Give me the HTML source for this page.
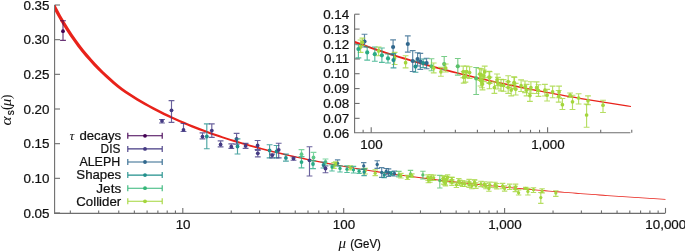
<!DOCTYPE html>
<html><head><meta charset="utf-8"><style>
html,body{margin:0;padding:0;background:#fff;width:685px;height:251px;overflow:hidden}
svg{display:block;font-family:"Liberation Sans",sans-serif;will-change:transform}
text{stroke:#111;stroke-width:0.22px}
text[font-family]{stroke:none}
</style></head><body>
<svg width="685" height="251" viewBox="0 0 685 251"><defs><clipPath id="cm"><rect x="55" y="5" width="612" height="208"/></clipPath><clipPath id="ci"><rect x="355" y="14" width="276" height="119"/></clipPath></defs><path d="M54.6 5V213.4H665" stroke="#6e6e6e" stroke-width="1.1" fill="none"/><path d="M54.6 5.00h5.4" stroke="#6e6e6e" stroke-width="1.1"/><text x="49.5" y="9.60" text-anchor="end" font-size="13.4" fill="#111111">0.35</text><path d="M54.6 39.67h5.4" stroke="#6e6e6e" stroke-width="1.1"/><text x="49.5" y="44.27" text-anchor="end" font-size="13.4" fill="#111111">0.30</text><path d="M54.6 74.33h5.4" stroke="#6e6e6e" stroke-width="1.1"/><text x="49.5" y="78.93" text-anchor="end" font-size="13.4" fill="#111111">0.25</text><path d="M54.6 109.00h5.4" stroke="#6e6e6e" stroke-width="1.1"/><text x="49.5" y="113.60" text-anchor="end" font-size="13.4" fill="#111111">0.20</text><path d="M54.6 143.67h5.4" stroke="#6e6e6e" stroke-width="1.1"/><text x="49.5" y="148.27" text-anchor="end" font-size="13.4" fill="#111111">0.15</text><path d="M54.6 178.33h5.4" stroke="#6e6e6e" stroke-width="1.1"/><text x="49.5" y="182.93" text-anchor="end" font-size="13.4" fill="#111111">0.10</text><path d="M54.6 213.00h5.4" stroke="#6e6e6e" stroke-width="1.1"/><text x="49.5" y="217.60" text-anchor="end" font-size="13.4" fill="#111111">0.05</text><path d="M70.34 213.4v-3" stroke="#6e6e6e" stroke-width="1.1"/><path d="M98.67 213.4v-3" stroke="#6e6e6e" stroke-width="1.1"/><path d="M118.77 213.4v-3" stroke="#6e6e6e" stroke-width="1.1"/><path d="M134.36 213.4v-3" stroke="#6e6e6e" stroke-width="1.1"/><path d="M147.10 213.4v-3" stroke="#6e6e6e" stroke-width="1.1"/><path d="M157.88 213.4v-3" stroke="#6e6e6e" stroke-width="1.1"/><path d="M167.21 213.4v-3" stroke="#6e6e6e" stroke-width="1.1"/><path d="M175.44 213.4v-3" stroke="#6e6e6e" stroke-width="1.1"/><path d="M182.80 213.4v-5.5" stroke="#6e6e6e" stroke-width="1.1"/><path d="M231.24 213.4v-3" stroke="#6e6e6e" stroke-width="1.1"/><path d="M259.57 213.4v-3" stroke="#6e6e6e" stroke-width="1.1"/><path d="M279.67 213.4v-3" stroke="#6e6e6e" stroke-width="1.1"/><path d="M295.26 213.4v-3" stroke="#6e6e6e" stroke-width="1.1"/><path d="M308.00 213.4v-3" stroke="#6e6e6e" stroke-width="1.1"/><path d="M318.78 213.4v-3" stroke="#6e6e6e" stroke-width="1.1"/><path d="M328.11 213.4v-3" stroke="#6e6e6e" stroke-width="1.1"/><path d="M336.34 213.4v-3" stroke="#6e6e6e" stroke-width="1.1"/><path d="M343.70 213.4v-5.5" stroke="#6e6e6e" stroke-width="1.1"/><path d="M392.14 213.4v-3" stroke="#6e6e6e" stroke-width="1.1"/><path d="M420.47 213.4v-3" stroke="#6e6e6e" stroke-width="1.1"/><path d="M440.57 213.4v-3" stroke="#6e6e6e" stroke-width="1.1"/><path d="M456.16 213.4v-3" stroke="#6e6e6e" stroke-width="1.1"/><path d="M468.90 213.4v-3" stroke="#6e6e6e" stroke-width="1.1"/><path d="M479.68 213.4v-3" stroke="#6e6e6e" stroke-width="1.1"/><path d="M489.01 213.4v-3" stroke="#6e6e6e" stroke-width="1.1"/><path d="M497.24 213.4v-3" stroke="#6e6e6e" stroke-width="1.1"/><path d="M504.60 213.4v-5.5" stroke="#6e6e6e" stroke-width="1.1"/><path d="M553.04 213.4v-3" stroke="#6e6e6e" stroke-width="1.1"/><path d="M581.37 213.4v-3" stroke="#6e6e6e" stroke-width="1.1"/><path d="M601.47 213.4v-3" stroke="#6e6e6e" stroke-width="1.1"/><path d="M617.06 213.4v-3" stroke="#6e6e6e" stroke-width="1.1"/><path d="M629.80 213.4v-3" stroke="#6e6e6e" stroke-width="1.1"/><path d="M640.58 213.4v-3" stroke="#6e6e6e" stroke-width="1.1"/><path d="M649.91 213.4v-3" stroke="#6e6e6e" stroke-width="1.1"/><path d="M658.14 213.4v-3" stroke="#6e6e6e" stroke-width="1.1"/><path d="M665.50 213.4v-5.5" stroke="#6e6e6e" stroke-width="1.1"/><text x="183.10" y="228.7" text-anchor="middle" font-size="13.4" fill="#111111">10</text><text x="344.00" y="228.7" text-anchor="middle" font-size="13.4" fill="#111111">100</text><text x="504.90" y="228.7" text-anchor="middle" font-size="13.4" fill="#111111">1,000</text><text x="665.80" y="228.7" text-anchor="middle" font-size="13.4" fill="#111111">10,000</text><text x="338.6" y="247.6" font-family="Liberation Serif" font-style="italic" font-size="15" fill="#111111">μ</text><text x="350.3" y="247.6" font-size="12.6" textLength="30.6" lengthAdjust="spacingAndGlyphs" fill="#111111">(GeV)</text><g transform="translate(10.5 124.8) rotate(-90)" fill="#111111"><text x="-0.6" y="0" font-family="Liberation Serif" font-style="italic" font-size="15" textLength="9" lengthAdjust="spacingAndGlyphs">α</text><text x="9.6" y="3.8" font-size="10">s</text><text x="14.8" y="0" font-family="Liberation Serif" font-size="14">(</text><text x="18.6" y="0" font-family="Liberation Serif" font-style="italic" font-size="15">μ</text><text x="25.6" y="0" font-family="Liberation Serif" font-size="14">)</text></g><path d="M46.33 -6.20 L50.22 2.09 L54.13 9.82 L58.05 17.02 L61.97 23.76 L65.90 30.08 L69.82 36.02 L73.74 41.62 L77.66 46.90 L81.59 51.90 L85.51 56.63 L89.44 61.12 L93.36 65.38 L97.29 69.44 L101.21 73.31 L105.13 77.00 L109.06 80.53 L112.98 83.90 L116.90 87.13 L120.84 90.25 L124.79 92.95 L128.70 95.52 L132.61 98.00 L136.53 100.39 L140.44 102.71 L144.35 104.95 L148.25 107.12 L152.16 109.22 L156.06 111.26 L159.97 113.24 L163.87 115.16 L167.77 117.02 L171.67 118.83 L175.57 120.58 L179.47 122.29 L183.38 123.95 L187.28 125.56 L191.17 127.13 L195.07 128.66 L198.97 130.14 L202.87 131.59 L206.77 133.00 L210.66 134.38 L214.56 135.72 L218.46 137.03 L222.35 138.31 L226.25 139.55 L230.14 140.77 L234.04 141.96 L237.94 143.11 L241.83 144.24 L245.73 145.35 L249.62 146.43 L253.51 147.49 L257.41 148.52 L261.30 149.53 L265.19 150.52 L269.09 151.49 L272.98 152.43 L276.87 153.36 L280.76 154.27 L284.65 155.17 L288.54 156.05 L292.43 156.91 L296.32 157.76 L300.21 158.58 L304.10 159.40 L307.99 160.19 L311.88 160.98 L315.77 161.74 L319.66 162.50 L323.55 163.24 L327.44 163.96 L331.33 164.68 L335.21 165.38 L339.10 166.06 L342.99 166.74 L346.88 167.41 L350.76 168.07 L354.65 168.73 L358.54 169.37 L362.42 170.00 L366.31 170.62 L370.20 171.22 L374.08 171.82 L377.97 172.41 L381.85 173.00 L385.74 173.57 L389.63 174.13 L393.51 174.68 L397.40 175.23 L401.28 175.77 L405.17 176.30 L409.06 176.82 L412.94 177.33 L416.83 177.84 L420.71 178.33 L424.60 178.83 L428.48 179.31 L432.37 179.79 L436.26 180.26 L440.14 180.72 L444.03 181.18 L447.91 181.63 L451.80 182.08 L455.68 182.51 L459.57 182.95 L463.45 183.37 L467.34 183.80 L471.22 184.21 L475.11 184.62 L479.00 185.03 L482.88 185.43 L486.77 185.82 L490.65 186.21 L494.54 186.59 L498.42 186.97 L502.31 187.35 L506.19 187.72 L510.08 188.08 L513.96 188.44 L517.85 188.80 L521.73 189.15 L525.62 189.50 L529.50 189.84 L533.39 190.18 L537.27 190.52 L541.16 190.85 L545.04 191.18 L548.93 191.50 L552.81 191.82 L556.70 192.14 L560.58 192.45 L564.47 192.76 L568.35 193.07 L572.24 193.37 L576.12 193.67 L580.01 193.97 L583.89 194.26 L587.78 194.55 L591.66 194.83 L595.55 195.12 L599.43 195.40 L603.32 195.67 L607.20 195.95 L611.09 196.22 L614.97 196.49 L618.86 196.75 L622.74 197.01 L626.63 197.27 L630.51 197.53 L634.40 197.78 L638.28 198.03 L642.17 198.28 L646.05 198.53 L649.94 198.77 L653.82 199.02 L657.71 199.25 L661.59 199.49 L665.48 199.73 L665.52 198.98 L661.64 198.74 L657.75 198.50 L653.87 198.26 L649.99 198.01 L646.10 197.76 L642.22 197.51 L638.33 197.26 L634.45 197.01 L630.57 196.75 L626.68 196.49 L622.80 196.22 L618.91 195.96 L615.03 195.69 L611.14 195.42 L607.26 195.14 L603.38 194.87 L599.49 194.59 L595.61 194.30 L591.72 194.02 L587.84 193.73 L583.96 193.43 L580.07 193.14 L576.19 192.84 L572.30 192.54 L568.42 192.23 L564.54 191.92 L560.65 191.61 L556.77 191.29 L552.88 190.97 L549.00 190.65 L545.12 190.32 L541.23 189.99 L537.35 189.65 L533.46 189.31 L529.58 188.97 L525.70 188.62 L521.81 188.27 L517.93 187.92 L514.05 187.56 L510.16 187.19 L506.28 186.82 L502.39 186.45 L498.51 186.07 L494.63 185.68 L490.74 185.30 L486.86 184.90 L482.98 184.50 L479.09 184.10 L475.21 183.69 L471.32 183.27 L467.44 182.85 L463.56 182.43 L459.67 182.00 L455.79 181.56 L451.91 181.12 L448.02 180.67 L444.14 180.21 L440.26 179.75 L436.37 179.28 L432.49 178.81 L428.61 178.32 L424.72 177.83 L420.84 177.34 L416.96 176.84 L413.07 176.33 L409.19 175.81 L405.31 175.28 L401.42 174.75 L397.54 174.21 L393.66 173.66 L389.77 173.10 L385.89 172.53 L382.01 171.95 L378.13 171.37 L374.24 170.77 L370.36 170.17 L366.48 169.56 L362.59 168.93 L358.71 168.30 L354.83 167.65 L350.95 167.00 L347.06 166.33 L343.18 165.65 L339.30 164.95 L335.42 164.24 L331.54 163.52 L327.66 162.78 L323.78 162.03 L319.90 161.27 L316.02 160.50 L312.14 159.71 L308.26 158.90 L304.38 158.08 L300.50 157.25 L296.62 156.40 L292.74 155.53 L288.86 154.64 L284.98 153.74 L281.11 152.82 L277.23 151.88 L273.35 150.92 L269.47 149.94 L265.60 148.94 L261.72 147.92 L257.85 146.87 L253.97 145.81 L250.10 144.72 L246.22 143.61 L242.35 142.47 L238.47 141.31 L234.60 140.12 L230.73 138.91 L226.85 137.67 L222.98 136.40 L219.11 135.10 L215.23 133.77 L211.36 132.40 L207.49 131.01 L203.62 129.58 L199.75 128.11 L195.88 126.60 L192.01 125.06 L188.14 123.47 L184.27 121.84 L180.40 120.17 L176.53 118.45 L172.66 116.68 L168.80 114.86 L164.93 112.99 L161.06 111.06 L157.20 109.07 L153.33 107.03 L149.47 104.91 L145.61 102.73 L141.75 100.48 L137.89 98.15 L134.03 95.74 L130.17 93.25 L126.32 90.68 L122.50 88.02 L118.67 84.95 L114.82 81.73 L110.98 78.36 L107.13 74.85 L103.28 71.17 L99.44 67.33 L95.60 63.29 L91.75 59.05 L87.91 54.60 L84.06 49.91 L80.22 44.96 L76.37 39.73 L72.52 34.19 L68.68 28.31 L64.83 22.05 L60.98 15.38 L57.13 8.25 L53.28 0.60 L49.40 -7.65Z" fill="#e8221a" clip-path="url(#cm)"/><path d="M127.8 135.8H162.2M127.8 132.8v6M162.2 132.8v6" stroke="#440154" stroke-width="1.1" fill="none"/><circle cx="145" cy="135.8" r="1.9" fill="#440154"/><text x="79.4" y="140.1" textLength="41.8" lengthAdjust="spacingAndGlyphs" font-size="12.4" fill="#111111">decays</text><text x="69.6" y="140.1" font-family="Liberation Serif" font-style="italic" font-size="13.5" fill="#111111">τ</text><path d="M127.8 148.9H162.2M127.8 145.9v6M162.2 145.9v6" stroke="#443a83" stroke-width="1.1" fill="none"/><circle cx="145" cy="148.9" r="1.9" fill="#443a83"/><text x="100.6" y="153.2" textLength="19.8" lengthAdjust="spacingAndGlyphs" font-size="12.4" fill="#111111">DIS</text><path d="M127.8 162.0H162.2M127.8 159.0v6M162.2 159.0v6" stroke="#31688e" stroke-width="1.1" fill="none"/><circle cx="145" cy="162.0" r="1.9" fill="#31688e"/><text x="79.4" y="166.3" textLength="40.8" lengthAdjust="spacingAndGlyphs" font-size="12.4" fill="#111111">ALEPH</text><path d="M127.8 175.1H162.2M127.8 172.1v6M162.2 172.1v6" stroke="#21908c" stroke-width="1.1" fill="none"/><circle cx="145" cy="175.1" r="1.9" fill="#21908c"/><text x="76.3" y="179.4" textLength="44.9" lengthAdjust="spacingAndGlyphs" font-size="12.4" fill="#111111">Shapes</text><path d="M127.8 188.2H162.2M127.8 185.2v6M162.2 185.2v6" stroke="#35b779" stroke-width="1.1" fill="none"/><circle cx="145" cy="188.2" r="1.9" fill="#35b779"/><text x="96.3" y="192.5" textLength="24.9" lengthAdjust="spacingAndGlyphs" font-size="12.4" fill="#111111">Jets</text><path d="M127.8 201.3H162.2M127.8 198.3v6M162.2 198.3v6" stroke="#a4d63c" stroke-width="1.1" fill="none"/><circle cx="145" cy="201.3" r="1.9" fill="#a4d63c"/><text x="76.3" y="205.6" textLength="44.9" lengthAdjust="spacingAndGlyphs" font-size="12.4" fill="#111111">Collider</text><path d="M63.0 20.7V40.3M60.1 20.7h5.8M60.1 40.3h5.8" stroke="#440154" stroke-width="1.15" stroke-opacity="0.8" fill="none"/><circle cx="63.0" cy="31.2" r="1.9" fill="#440154"/><path d="M162.0 119.5V123.0M159.1 119.5h5.8M159.1 123.0h5.8" stroke="#443a83" stroke-width="1.15" stroke-opacity="0.8" fill="none"/><circle cx="162.0" cy="120.9" r="1.9" fill="#443a83"/><path d="M171.5 100.6V122.3M168.6 100.6h5.8M168.6 122.3h5.8" stroke="#443a83" stroke-width="1.15" stroke-opacity="0.8" fill="none"/><circle cx="171.5" cy="110.3" r="1.9" fill="#443a83"/><path d="M183.5 123.5V131.5M180.6 123.5h5.8M180.6 131.5h5.8" stroke="#443a83" stroke-width="1.15" stroke-opacity="0.8" fill="none"/><circle cx="183.5" cy="129.9" r="1.9" fill="#443a83"/><path d="M202.5 132.9V138.9M199.6 132.9h5.8M199.6 138.9h5.8" stroke="#443a83" stroke-width="1.15" stroke-opacity="0.8" fill="none"/><circle cx="202.5" cy="136.6" r="1.9" fill="#443a83"/><path d="M206.8 123.8V148.7M203.9 123.8h5.8M203.9 148.7h5.8" stroke="#21908c" stroke-width="1.15" stroke-opacity="0.8" fill="none"/><circle cx="206.8" cy="136.5" r="1.9" fill="#21908c"/><path d="M211.8 123.8V137.3M208.9 123.8h5.8M208.9 137.3h5.8" stroke="#443a83" stroke-width="1.15" stroke-opacity="0.8" fill="none"/><circle cx="211.8" cy="130.6" r="1.9" fill="#443a83"/><path d="M220.6 140.9V146.9M217.7 140.9h5.8M217.7 146.9h5.8" stroke="#443a83" stroke-width="1.15" stroke-opacity="0.8" fill="none"/><circle cx="220.6" cy="144.4" r="1.9" fill="#443a83"/><path d="M231.3 143.9V148.4M228.4 143.9h5.8M228.4 148.4h5.8" stroke="#443a83" stroke-width="1.15" stroke-opacity="0.8" fill="none"/><circle cx="231.3" cy="146.7" r="1.9" fill="#443a83"/><path d="M236.6 133.4V144.1M233.7 133.4h5.8M233.7 144.1h5.8" stroke="#443a83" stroke-width="1.15" stroke-opacity="0.8" fill="none"/><circle cx="236.6" cy="138.9" r="1.9" fill="#443a83"/><path d="M237.5 138.8V154.0M234.6 138.8h5.8M234.6 154.0h5.8" stroke="#21908c" stroke-width="1.15" stroke-opacity="0.8" fill="none"/><circle cx="237.5" cy="146.5" r="1.9" fill="#21908c"/><path d="M245.6 143.3V148.3M242.7 143.3h5.8M242.7 148.3h5.8" stroke="#443a83" stroke-width="1.15" stroke-opacity="0.8" fill="none"/><circle cx="245.6" cy="145.9" r="1.9" fill="#443a83"/><path d="M257.6 140.5V149.5M254.7 140.5h5.8M254.7 149.5h5.8" stroke="#443a83" stroke-width="1.15" stroke-opacity="0.8" fill="none"/><circle cx="257.6" cy="145.4" r="1.9" fill="#443a83"/><path d="M257.8 150.3V156.9M254.9 150.3h5.8M254.9 156.9h5.8" stroke="#443a83" stroke-width="1.15" stroke-opacity="0.8" fill="none"/><circle cx="257.8" cy="153.3" r="1.9" fill="#443a83"/><path d="M269.6 144.7V157.9M266.7 144.7h5.8M266.7 157.9h5.8" stroke="#21908c" stroke-width="1.15" stroke-opacity="0.8" fill="none"/><circle cx="269.6" cy="150.5" r="1.9" fill="#21908c"/><path d="M272.2 154.1V157.9M269.3 154.1h5.8M269.3 157.9h5.8" stroke="#443a83" stroke-width="1.15" stroke-opacity="0.8" fill="none"/><circle cx="272.2" cy="155.2" r="1.9" fill="#443a83"/><path d="M276.5 145.5V157.9M273.6 145.5h5.8M273.6 157.9h5.8" stroke="#21908c" stroke-width="1.15" stroke-opacity="0.8" fill="none"/><circle cx="276.5" cy="151.4" r="1.9" fill="#21908c"/><path d="M278.7 143.2V157.9M275.8 143.2h5.8M275.8 157.9h5.8" stroke="#443a83" stroke-width="1.15" stroke-opacity="0.8" fill="none"/><circle cx="278.7" cy="149.8" r="1.9" fill="#443a83"/><path d="M285.9 154.1V161.1M283.0 154.1h5.8M283.0 161.1h5.8" stroke="#21908c" stroke-width="1.15" stroke-opacity="0.8" fill="none"/><circle cx="285.9" cy="157.9" r="1.9" fill="#21908c"/><path d="M293.5 157.0V160.2M290.6 157.0h5.8M290.6 160.2h5.8" stroke="#443a83" stroke-width="1.15" stroke-opacity="0.8" fill="none"/><circle cx="293.5" cy="158.6" r="1.9" fill="#443a83"/><path d="M301.5 149.6V156.7M298.6 149.6h5.8M298.6 156.7h5.8" stroke="#5ec98a" stroke-width="1.15" stroke-opacity="0.8" fill="none"/><circle cx="301.5" cy="154.2" r="1.9" fill="#5ec98a"/><path d="M301.5 156.7V167.9M298.6 156.7h5.8M298.6 167.9h5.8" stroke="#2aab85" stroke-width="1.15" stroke-opacity="0.8" fill="none"/><circle cx="301.5" cy="162.1" r="1.9" fill="#2aab85"/><path d="M309.5 146.7V176.0M306.6 146.7h5.8M306.6 176.0h5.8" stroke="#443a83" stroke-width="1.15" stroke-opacity="0.8" fill="none"/><circle cx="309.5" cy="160.3" r="1.9" fill="#443a83"/><path d="M313.5 152.3V160.7M310.6 152.3h5.8M310.6 160.7h5.8" stroke="#5ec98a" stroke-width="1.15" stroke-opacity="0.8" fill="none"/><circle cx="313.5" cy="157.5" r="1.9" fill="#5ec98a"/><path d="M313.0 160.7V168.6M310.1 160.7h5.8M310.1 168.6h5.8" stroke="#2aab85" stroke-width="1.15" stroke-opacity="0.8" fill="none"/><circle cx="313.0" cy="164.0" r="1.9" fill="#2aab85"/><path d="M325.5 159.0V165.0M322.6 159.0h5.8M322.6 165.0h5.8" stroke="#5ec98a" stroke-width="1.15" stroke-opacity="0.8" fill="none"/><circle cx="325.5" cy="162.0" r="1.9" fill="#5ec98a"/><path d="M323.5 162.0V168.0M320.6 162.0h5.8M320.6 168.0h5.8" stroke="#21908c" stroke-width="1.15" stroke-opacity="0.8" fill="none"/><circle cx="323.5" cy="165.0" r="1.9" fill="#21908c"/><path d="M325.5 166.0V172.7M322.6 166.0h5.8M322.6 172.7h5.8" stroke="#443a83" stroke-width="1.15" stroke-opacity="0.8" fill="none"/><circle cx="325.5" cy="168.5" r="1.9" fill="#443a83"/><path d="M337.6 159.9V165.9M334.9 159.9h5.4M334.9 165.9h5.4" stroke="#31688e" stroke-width="1.15" stroke-opacity="0.8" fill="none"/><circle cx="337.6" cy="163.3" r="1.65" fill="#31688e"/><path d="M334.0 162.6V168.4M331.3 162.6h5.4M331.3 168.4h5.4" stroke="#a4d63c" stroke-width="1.15" stroke-opacity="0.8" fill="none"/><circle cx="334.0" cy="165.9" r="1.65" fill="#a4d63c"/><path d="M335.6 161.7V165.2M332.9 161.7h5.4M332.9 165.2h5.4" stroke="#a4d63c" stroke-width="1.15" stroke-opacity="0.8" fill="none"/><circle cx="335.6" cy="163.7" r="1.65" fill="#a4d63c"/><path d="M332.0 164.8V171.0M329.3 164.8h5.4M329.3 171.0h5.4" stroke="#2aab85" stroke-width="1.15" stroke-opacity="0.8" fill="none"/><circle cx="332.0" cy="166.9" r="1.65" fill="#2aab85"/><path d="M340.0 165.9V172.0M337.3 165.9h5.4M337.3 172.0h5.4" stroke="#2aab85" stroke-width="1.15" stroke-opacity="0.8" fill="none"/><circle cx="340.0" cy="168.4" r="1.65" fill="#2aab85"/><path d="M347.0 165.9V172.5M344.3 165.9h5.4M344.3 172.5h5.4" stroke="#2aab85" stroke-width="1.15" stroke-opacity="0.8" fill="none"/><circle cx="347.0" cy="169.2" r="1.65" fill="#2aab85"/><path d="M350.5 165.9V169.9M347.8 165.9h5.4M347.8 169.9h5.4" stroke="#a4d63c" stroke-width="1.15" stroke-opacity="0.8" fill="none"/><circle cx="350.5" cy="167.7" r="1.65" fill="#a4d63c"/><path d="M353.5 166.4V173.0M350.8 166.4h5.4M350.8 173.0h5.4" stroke="#2aab85" stroke-width="1.15" stroke-opacity="0.8" fill="none"/><circle cx="353.5" cy="169.8" r="1.65" fill="#2aab85"/><path d="M363.7 162.6V169.4M361.0 162.6h5.4M361.0 169.4h5.4" stroke="#31688e" stroke-width="1.15" stroke-opacity="0.8" fill="none"/><circle cx="363.7" cy="165.9" r="1.65" fill="#31688e"/><path d="M359.1 169.2V173.3M356.4 169.2h5.4M356.4 173.3h5.4" stroke="#2aab85" stroke-width="1.15" stroke-opacity="0.8" fill="none"/><circle cx="359.1" cy="171.2" r="1.65" fill="#2aab85"/><path d="M365.1 168.4V174.0M362.4 168.4h5.4M362.4 174.0h5.4" stroke="#a4d63c" stroke-width="1.15" stroke-opacity="0.8" fill="none"/><circle cx="365.1" cy="171.0" r="1.65" fill="#a4d63c"/><path d="M364.1 168.9V175.6M361.4 168.9h5.4M361.4 175.6h5.4" stroke="#21908c" stroke-width="1.15" stroke-opacity="0.8" fill="none"/><circle cx="364.1" cy="172.0" r="1.65" fill="#21908c"/><path d="M377.2 160.7V168.3M374.5 160.7h5.4M374.5 168.3h5.4" stroke="#31688e" stroke-width="1.15" stroke-opacity="0.8" fill="none"/><circle cx="377.2" cy="164.5" r="1.65" fill="#31688e"/><path d="M375.2 169.9V175.6M372.5 169.9h5.4M372.5 175.6h5.4" stroke="#a4d63c" stroke-width="1.15" stroke-opacity="0.8" fill="none"/><circle cx="375.2" cy="173.2" r="1.65" fill="#a4d63c"/><path d="M381.7 167.6V177.3M379.0 167.6h5.4M379.0 177.3h5.4" stroke="#31688e" stroke-width="1.15" stroke-opacity="0.8" fill="none"/><circle cx="381.7" cy="172.4" r="1.65" fill="#31688e"/><path d="M386.2 168.5V174.7M383.5 168.5h5.4M383.5 174.7h5.4" stroke="#31688e" stroke-width="1.15" stroke-opacity="0.8" fill="none"/><circle cx="386.2" cy="171.5" r="1.65" fill="#31688e"/><path d="M388.6 168.9V176.3M385.9 168.9h5.4M385.9 176.3h5.4" stroke="#31688e" stroke-width="1.15" stroke-opacity="0.8" fill="none"/><circle cx="388.6" cy="172.6" r="1.65" fill="#31688e"/><path d="M394.4 171.1V176.0M391.7 171.1h5.4M391.7 176.0h5.4" stroke="#31688e" stroke-width="1.15" stroke-opacity="0.8" fill="none"/><circle cx="394.4" cy="173.4" r="1.65" fill="#31688e"/><path d="M384.2 172.4V177.6M381.5 172.4h5.4M381.5 177.6h5.4" stroke="#21908c" stroke-width="1.15" stroke-opacity="0.8" fill="none"/><circle cx="384.2" cy="175.0" r="1.65" fill="#21908c"/><path d="M391.2 171.5V175.4M388.5 171.5h5.4M388.5 175.4h5.4" stroke="#21908c" stroke-width="1.15" stroke-opacity="0.8" fill="none"/><circle cx="391.2" cy="173.4" r="1.65" fill="#21908c"/><path d="M398.9 171.3V176.9M396.2 171.3h5.4M396.2 176.9h5.4" stroke="#58c06a" stroke-width="1.15" stroke-opacity="0.8" fill="none"/><circle cx="398.9" cy="174.9" r="1.65" fill="#58c06a"/><path d="M400.9 173.3V178.0M398.2 173.3h5.4M398.2 178.0h5.4" stroke="#a4d63c" stroke-width="1.15" stroke-opacity="0.8" fill="none"/><circle cx="400.9" cy="175.7" r="1.65" fill="#a4d63c"/><path d="M410.5 170.3V176.4M407.8 170.3h5.4M407.8 176.4h5.4" stroke="#58c06a" stroke-width="1.15" stroke-opacity="0.8" fill="none"/><circle cx="410.5" cy="173.9" r="1.65" fill="#58c06a"/><path d="M407.5 175.4V179.5M404.8 175.4h5.4M404.8 179.5h5.4" stroke="#a4d63c" stroke-width="1.15" stroke-opacity="0.8" fill="none"/><circle cx="407.5" cy="177.4" r="1.65" fill="#a4d63c"/><path d="M411.9 173.8V177.5M409.2 173.8h5.4M409.2 177.5h5.4" stroke="#a4d63c" stroke-width="1.15" stroke-opacity="0.8" fill="none"/><circle cx="411.9" cy="175.7" r="1.65" fill="#a4d63c"/><path d="M422.9 171.2V179.0M420.2 171.2h5.4M420.2 179.0h5.4" stroke="#58c06a" stroke-width="1.15" stroke-opacity="0.8" fill="none"/><circle cx="422.9" cy="174.9" r="1.65" fill="#58c06a"/><path d="M439.8 175.4V188.0M437.1 175.4h5.4M437.1 188.0h5.4" stroke="#58c06a" stroke-width="1.15" stroke-opacity="0.8" fill="none"/><circle cx="439.8" cy="180.5" r="1.65" fill="#58c06a"/><path d="M427.9 174.8V180.2M425.2 174.8h5.4M425.2 180.2h5.4" stroke="#a4d63c" stroke-width="1.15" stroke-opacity="0.8" fill="none"/><circle cx="427.9" cy="177.5" r="1.65" fill="#a4d63c"/><path d="M428.3 177.3V182.7M425.6 177.3h5.4M425.6 182.7h5.4" stroke="#a4d63c" stroke-width="1.15" stroke-opacity="0.8" fill="none"/><circle cx="428.3" cy="180.0" r="1.65" fill="#a4d63c"/><path d="M429.9 176.8V182.2M427.2 176.8h5.4M427.2 182.2h5.4" stroke="#a4d63c" stroke-width="1.15" stroke-opacity="0.8" fill="none"/><circle cx="429.9" cy="179.5" r="1.65" fill="#a4d63c"/><path d="M431.0 174.7V180.2M428.3 174.7h5.4M428.3 180.2h5.4" stroke="#a4d63c" stroke-width="1.15" stroke-opacity="0.8" fill="none"/><circle cx="431.0" cy="177.4" r="1.65" fill="#a4d63c"/><path d="M433.7 175.1V180.5M431.0 175.1h5.4M431.0 180.5h5.4" stroke="#a4d63c" stroke-width="1.15" stroke-opacity="0.8" fill="none"/><circle cx="433.7" cy="177.8" r="1.65" fill="#a4d63c"/><path d="M443.0 175.8V181.2M440.3 175.8h5.4M440.3 181.2h5.4" stroke="#a4d63c" stroke-width="1.15" stroke-opacity="0.8" fill="none"/><circle cx="443.0" cy="178.5" r="1.65" fill="#a4d63c"/><path d="M443.7 178.7V184.1M441.0 178.7h5.4M441.0 184.1h5.4" stroke="#a4d63c" stroke-width="1.15" stroke-opacity="0.8" fill="none"/><circle cx="443.7" cy="181.4" r="1.65" fill="#a4d63c"/><path d="M446.7 176.6V182.0M444.0 176.6h5.4M444.0 182.0h5.4" stroke="#a4d63c" stroke-width="1.15" stroke-opacity="0.8" fill="none"/><circle cx="446.7" cy="179.3" r="1.65" fill="#a4d63c"/><path d="M447.6 174.8V180.2M444.9 174.8h5.4M444.9 180.2h5.4" stroke="#a4d63c" stroke-width="1.15" stroke-opacity="0.8" fill="none"/><circle cx="447.6" cy="177.5" r="1.65" fill="#a4d63c"/><path d="M444.3 176.1V181.5M441.6 176.1h5.4M441.6 181.5h5.4" stroke="#a4d63c" stroke-width="1.15" stroke-opacity="0.8" fill="none"/><circle cx="444.3" cy="178.8" r="1.65" fill="#a4d63c"/><path d="M445.0 179.5V184.9M442.3 179.5h5.4M442.3 184.9h5.4" stroke="#a4d63c" stroke-width="1.15" stroke-opacity="0.8" fill="none"/><circle cx="445.0" cy="182.2" r="1.65" fill="#a4d63c"/><path d="M462.5 180.9V186.3M459.8 180.9h5.4M459.8 186.3h5.4" stroke="#a4d63c" stroke-width="1.15" stroke-opacity="0.8" fill="none"/><circle cx="462.5" cy="183.6" r="1.65" fill="#a4d63c"/><path d="M451.6 177.2V182.6M448.9 177.2h5.4M448.9 182.6h5.4" stroke="#a4d63c" stroke-width="1.15" stroke-opacity="0.8" fill="none"/><circle cx="451.6" cy="179.9" r="1.65" fill="#a4d63c"/><path d="M445.5 180.4V185.8M442.8 180.4h5.4M442.8 185.8h5.4" stroke="#a4d63c" stroke-width="1.15" stroke-opacity="0.8" fill="none"/><circle cx="445.5" cy="183.1" r="1.65" fill="#a4d63c"/><path d="M452.1 177.4V182.8M449.4 177.4h5.4M449.4 182.8h5.4" stroke="#a4d63c" stroke-width="1.15" stroke-opacity="0.8" fill="none"/><circle cx="452.1" cy="180.1" r="1.65" fill="#a4d63c"/><path d="M451.9 179.9V185.3M449.2 179.9h5.4M449.2 185.3h5.4" stroke="#a4d63c" stroke-width="1.15" stroke-opacity="0.8" fill="none"/><circle cx="451.9" cy="182.6" r="1.65" fill="#a4d63c"/><path d="M456.4 182.1V187.5M453.7 182.1h5.4M453.7 187.5h5.4" stroke="#a4d63c" stroke-width="1.15" stroke-opacity="0.8" fill="none"/><circle cx="456.4" cy="184.8" r="1.65" fill="#a4d63c"/><path d="M458.8 178.5V183.9M456.1 178.5h5.4M456.1 183.9h5.4" stroke="#a4d63c" stroke-width="1.15" stroke-opacity="0.8" fill="none"/><circle cx="458.8" cy="181.2" r="1.65" fill="#a4d63c"/><path d="M459.7 180.1V185.5M457.0 180.1h5.4M457.0 185.5h5.4" stroke="#a4d63c" stroke-width="1.15" stroke-opacity="0.8" fill="none"/><circle cx="459.7" cy="182.8" r="1.65" fill="#a4d63c"/><path d="M464.8 181.1V186.5M462.1 181.1h5.4M462.1 186.5h5.4" stroke="#a4d63c" stroke-width="1.15" stroke-opacity="0.8" fill="none"/><circle cx="464.8" cy="183.8" r="1.65" fill="#a4d63c"/><path d="M469.1 179.3V184.7M466.4 179.3h5.4M466.4 184.7h5.4" stroke="#a4d63c" stroke-width="1.15" stroke-opacity="0.8" fill="none"/><circle cx="469.1" cy="182.0" r="1.65" fill="#a4d63c"/><path d="M469.1 182.1V187.5M466.4 182.1h5.4M466.4 187.5h5.4" stroke="#a4d63c" stroke-width="1.15" stroke-opacity="0.8" fill="none"/><circle cx="469.1" cy="184.8" r="1.65" fill="#a4d63c"/><path d="M471.8 183.3V188.7M469.1 183.3h5.4M469.1 188.7h5.4" stroke="#a4d63c" stroke-width="1.15" stroke-opacity="0.8" fill="none"/><circle cx="471.8" cy="186.0" r="1.65" fill="#a4d63c"/><path d="M474.4 179.8V185.2M471.7 179.8h5.4M471.7 185.2h5.4" stroke="#a4d63c" stroke-width="1.15" stroke-opacity="0.8" fill="none"/><circle cx="474.4" cy="182.5" r="1.65" fill="#a4d63c"/><path d="M475.9 182.9V188.3M473.2 182.9h5.4M473.2 188.3h5.4" stroke="#a4d63c" stroke-width="1.15" stroke-opacity="0.8" fill="none"/><circle cx="475.9" cy="185.6" r="1.65" fill="#a4d63c"/><path d="M480.9 181.2V186.6M478.2 181.2h5.4M478.2 186.6h5.4" stroke="#a4d63c" stroke-width="1.15" stroke-opacity="0.8" fill="none"/><circle cx="480.9" cy="183.9" r="1.65" fill="#a4d63c"/><path d="M484.4 181.7V187.1M481.7 181.7h5.4M481.7 187.1h5.4" stroke="#a4d63c" stroke-width="1.15" stroke-opacity="0.8" fill="none"/><circle cx="484.4" cy="184.4" r="1.65" fill="#a4d63c"/><path d="M485.9 183.3V188.7M483.2 183.3h5.4M483.2 188.7h5.4" stroke="#a4d63c" stroke-width="1.15" stroke-opacity="0.8" fill="none"/><circle cx="485.9" cy="186.0" r="1.65" fill="#a4d63c"/><path d="M488.9 185.8V191.2M486.2 185.8h5.4M486.2 191.2h5.4" stroke="#a4d63c" stroke-width="1.15" stroke-opacity="0.8" fill="none"/><circle cx="488.9" cy="188.5" r="1.65" fill="#a4d63c"/><path d="M489.8 182.1V187.5M487.1 182.1h5.4M487.1 187.5h5.4" stroke="#a4d63c" stroke-width="1.15" stroke-opacity="0.8" fill="none"/><circle cx="489.8" cy="184.8" r="1.65" fill="#a4d63c"/><path d="M474.8 180.0V185.4M472.1 180.0h5.4M472.1 185.4h5.4" stroke="#a4d63c" stroke-width="1.15" stroke-opacity="0.8" fill="none"/><circle cx="474.8" cy="182.7" r="1.65" fill="#a4d63c"/><path d="M495.0 182.2V187.6M492.3 182.2h5.4M492.3 187.6h5.4" stroke="#a4d63c" stroke-width="1.15" stroke-opacity="0.8" fill="none"/><circle cx="495.0" cy="184.9" r="1.65" fill="#a4d63c"/><path d="M496.8 183.5V188.9M494.1 183.5h5.4M494.1 188.9h5.4" stroke="#a4d63c" stroke-width="1.15" stroke-opacity="0.8" fill="none"/><circle cx="496.8" cy="186.2" r="1.65" fill="#a4d63c"/><path d="M502.6 183.3V188.7M499.9 183.3h5.4M499.9 188.7h5.4" stroke="#a4d63c" stroke-width="1.15" stroke-opacity="0.8" fill="none"/><circle cx="502.6" cy="186.0" r="1.65" fill="#a4d63c"/><path d="M504.6 185.7V191.1M501.9 185.7h5.4M501.9 191.1h5.4" stroke="#a4d63c" stroke-width="1.15" stroke-opacity="0.8" fill="none"/><circle cx="504.6" cy="188.4" r="1.65" fill="#a4d63c"/><path d="M509.7 184.1V189.5M507.0 184.1h5.4M507.0 189.5h5.4" stroke="#a4d63c" stroke-width="1.15" stroke-opacity="0.8" fill="none"/><circle cx="509.7" cy="186.8" r="1.65" fill="#a4d63c"/><path d="M515.6 184.1V189.5M512.9 184.1h5.4M512.9 189.5h5.4" stroke="#a4d63c" stroke-width="1.15" stroke-opacity="0.8" fill="none"/><circle cx="515.6" cy="186.8" r="1.65" fill="#a4d63c"/><path d="M515.3 186.2V191.6M512.6 186.2h5.4M512.6 191.6h5.4" stroke="#a4d63c" stroke-width="1.15" stroke-opacity="0.8" fill="none"/><circle cx="515.3" cy="188.9" r="1.65" fill="#a4d63c"/><path d="M518.6 189.9V195.0M515.9 189.9h5.4M515.9 195.0h5.4" stroke="#a4d63c" stroke-width="1.15" stroke-opacity="0.8" fill="none"/><circle cx="518.6" cy="192.8" r="1.65" fill="#a4d63c"/><path d="M525.7 187.3V189.4M523.0 187.3h5.4M523.0 189.4h5.4" stroke="#a4d63c" stroke-width="1.15" stroke-opacity="0.8" fill="none"/><circle cx="525.7" cy="188.4" r="1.65" fill="#a4d63c"/><path d="M527.9 188.4V195.0M525.2 188.4h5.4M525.2 195.0h5.4" stroke="#a4d63c" stroke-width="1.15" stroke-opacity="0.8" fill="none"/><circle cx="527.9" cy="191.4" r="1.65" fill="#a4d63c"/><path d="M533.5 187.7V192.5M530.8 187.7h5.4M530.8 192.5h5.4" stroke="#a4d63c" stroke-width="1.15" stroke-opacity="0.8" fill="none"/><circle cx="533.5" cy="189.7" r="1.65" fill="#a4d63c"/><path d="M542.1 188.7V192.8M539.4 188.7h5.4M539.4 192.8h5.4" stroke="#a4d63c" stroke-width="1.15" stroke-opacity="0.8" fill="none"/><circle cx="542.1" cy="191.0" r="1.65" fill="#a4d63c"/><path d="M540.8 192.5V203.3M538.1 192.5h5.4M538.1 203.3h5.4" stroke="#a4d63c" stroke-width="1.15" stroke-opacity="0.8" fill="none"/><circle cx="540.8" cy="197.6" r="1.65" fill="#a4d63c"/><path d="M555.8 190.7V196.4M553.1 190.7h5.4M553.1 196.4h5.4" stroke="#a4d63c" stroke-width="1.15" stroke-opacity="0.8" fill="none"/><circle cx="555.8" cy="193.0" r="1.65" fill="#a4d63c"/><path d="M354.6 14.2V132.8H630.4" stroke="#6e6e6e" stroke-width="1.1" fill="none"/><path d="M354.6 14.20h5" stroke="#6e6e6e" stroke-width="1.1"/><text x="349.2" y="18.80" text-anchor="end" font-size="13.4" fill="#111111">0.14</text><path d="M354.6 29.08h5" stroke="#6e6e6e" stroke-width="1.1"/><text x="349.2" y="33.68" text-anchor="end" font-size="13.4" fill="#111111">0.13</text><path d="M354.6 43.95h5" stroke="#6e6e6e" stroke-width="1.1"/><text x="349.2" y="48.55" text-anchor="end" font-size="13.4" fill="#111111">0.12</text><path d="M354.6 58.83h5" stroke="#6e6e6e" stroke-width="1.1"/><text x="349.2" y="63.43" text-anchor="end" font-size="13.4" fill="#111111">0.11</text><path d="M354.6 73.70h5" stroke="#6e6e6e" stroke-width="1.1"/><text x="349.2" y="78.30" text-anchor="end" font-size="13.4" fill="#111111">0.10</text><path d="M354.6 88.58h5" stroke="#6e6e6e" stroke-width="1.1"/><text x="349.2" y="93.18" text-anchor="end" font-size="13.4" fill="#111111">0.09</text><path d="M354.6 103.45h5" stroke="#6e6e6e" stroke-width="1.1"/><text x="349.2" y="108.05" text-anchor="end" font-size="13.4" fill="#111111">0.08</text><path d="M354.6 118.33h5" stroke="#6e6e6e" stroke-width="1.1"/><text x="349.2" y="122.93" text-anchor="end" font-size="13.4" fill="#111111">0.07</text><text x="349.2" y="137.80" text-anchor="end" font-size="13.4" fill="#111111">0.06</text><path d="M363.13 132.8v-3" stroke="#6e6e6e" stroke-width="1.1"/><path d="M371.20 132.8v-5.5" stroke="#6e6e6e" stroke-width="1.1"/><path d="M424.30 132.8v-3" stroke="#6e6e6e" stroke-width="1.1"/><path d="M455.36 132.8v-3" stroke="#6e6e6e" stroke-width="1.1"/><path d="M477.40 132.8v-3" stroke="#6e6e6e" stroke-width="1.1"/><path d="M494.50 132.8v-3" stroke="#6e6e6e" stroke-width="1.1"/><path d="M508.47 132.8v-3" stroke="#6e6e6e" stroke-width="1.1"/><path d="M520.28 132.8v-3" stroke="#6e6e6e" stroke-width="1.1"/><path d="M530.51 132.8v-3" stroke="#6e6e6e" stroke-width="1.1"/><path d="M539.53 132.8v-3" stroke="#6e6e6e" stroke-width="1.1"/><path d="M547.60 132.8v-5.5" stroke="#6e6e6e" stroke-width="1.1"/><path d="M600.70 132.8v-3" stroke="#6e6e6e" stroke-width="1.1"/><path d="M631.76 132.8v-3" stroke="#6e6e6e" stroke-width="1.1"/><text x="371.50" y="148.7" text-anchor="middle" font-size="13.4" fill="#111111">100</text><text x="547.90" y="148.7" text-anchor="middle" font-size="13.4" fill="#111111">1,000</text><path d="M351.80 42.10 L356.55 43.83 L361.30 45.53 L366.05 47.19 L370.79 48.82 L375.54 50.42 L380.29 51.99 L385.04 53.54 L389.78 55.05 L394.53 56.53 L399.28 57.99 L404.02 59.42 L408.77 60.83 L413.51 62.21 L418.26 63.57 L423.01 64.90 L427.75 66.21 L432.50 67.50 L437.24 68.76 L441.99 70.01 L446.73 71.23 L451.48 72.44 L456.22 73.62 L460.97 74.79 L465.71 75.94 L470.45 77.06 L475.20 78.18 L479.94 79.27 L484.69 80.34 L489.43 81.40 L494.17 82.45 L498.92 83.48 L503.66 84.49 L508.40 85.49 L513.14 86.48 L517.89 87.45 L522.63 88.41 L527.37 89.35 L532.11 90.28 L536.85 91.20 L541.60 92.10 L546.34 92.99 L551.08 93.87 L555.82 94.73 L560.56 95.59 L565.30 96.43 L570.05 97.26 L574.79 98.08 L579.53 98.89 L584.27 99.69 L589.01 100.47 L593.75 101.25 L598.49 102.02 L603.24 102.78 L607.98 103.52 L612.72 104.26 L617.46 104.99 L622.20 105.71 L626.94 106.42 L631.68 107.12 L631.85 106.02 L627.11 105.31 L622.37 104.58 L617.64 103.85 L612.90 103.11 L608.16 102.36 L603.42 101.60 L598.69 100.83 L593.95 100.05 L589.21 99.26 L584.48 98.46 L579.74 97.65 L575.01 96.83 L570.27 95.99 L565.53 95.15 L560.80 94.30 L556.06 93.43 L551.32 92.55 L546.59 91.66 L541.85 90.76 L537.12 89.84 L532.38 88.91 L527.64 87.97 L522.91 87.02 L518.17 86.05 L513.44 85.06 L508.70 84.07 L503.97 83.05 L499.23 82.03 L494.50 80.98 L489.76 79.92 L485.03 78.84 L480.29 77.75 L475.56 76.64 L470.83 75.51 L466.09 74.36 L461.36 73.19 L456.62 72.01 L451.89 70.81 L447.16 69.59 L442.42 68.34 L437.69 67.08 L432.96 65.80 L428.23 64.49 L423.49 63.16 L418.76 61.81 L414.03 60.44 L409.30 59.04 L404.57 57.62 L399.83 56.17 L395.10 54.70 L390.37 53.19 L385.64 51.67 L380.91 50.11 L376.18 48.52 L371.45 46.91 L366.72 45.26 L361.99 43.58 L357.26 41.87 L352.53 40.13Z" fill="#e8221a" clip-path="url(#ci)"/><path d="M355 59.1h5" stroke="#a8a8a8" stroke-width="1.1"/><path d="M364.5 34.2V47.0M361.6 34.2h5.8M361.6 47.0h5.8" stroke="#31688e" stroke-width="1.15" stroke-opacity="0.8" fill="none"/><circle cx="364.5" cy="41.5" r="2.1" fill="#31688e"/><path d="M360.6 40.0V52.4M357.7 40.0h5.8M357.7 52.4h5.8" stroke="#a4d63c" stroke-width="1.15" stroke-opacity="0.8" fill="none"/><circle cx="360.6" cy="47.0" r="1.85" fill="#a4d63c"/><path d="M362.4 38.1V45.5M359.5 38.1h5.8M359.5 45.5h5.8" stroke="#a4d63c" stroke-width="1.15" stroke-opacity="0.8" fill="none"/><circle cx="362.4" cy="42.3" r="1.85" fill="#a4d63c"/><path d="M358.4 44.7V57.9M355.5 44.7h5.8M355.5 57.9h5.8" stroke="#2aab85" stroke-width="1.15" stroke-opacity="0.8" fill="none"/><circle cx="358.4" cy="49.1" r="2.1" fill="#2aab85"/><path d="M367.2 47.0V60.1M364.3 47.0h5.8M364.3 60.1h5.8" stroke="#2aab85" stroke-width="1.15" stroke-opacity="0.8" fill="none"/><circle cx="367.2" cy="52.4" r="2.1" fill="#2aab85"/><path d="M374.8 47.0V61.2M371.9 47.0h5.8M371.9 61.2h5.8" stroke="#2aab85" stroke-width="1.15" stroke-opacity="0.8" fill="none"/><circle cx="374.8" cy="54.2" r="2.1" fill="#2aab85"/><path d="M378.6 47.0V55.7M375.7 47.0h5.8M375.7 55.7h5.8" stroke="#a4d63c" stroke-width="1.15" stroke-opacity="0.8" fill="none"/><circle cx="378.6" cy="50.9" r="1.85" fill="#a4d63c"/><path d="M381.9 48.0V62.3M379.0 48.0h5.8M379.0 62.3h5.8" stroke="#2aab85" stroke-width="1.15" stroke-opacity="0.8" fill="none"/><circle cx="381.9" cy="55.3" r="2.1" fill="#2aab85"/><path d="M393.1 39.9V54.6M390.2 39.9h5.8M390.2 54.6h5.8" stroke="#31688e" stroke-width="1.15" stroke-opacity="0.8" fill="none"/><circle cx="393.1" cy="47.0" r="2.1" fill="#31688e"/><path d="M388.0 54.0V63.0M385.1 54.0h5.8M385.1 63.0h5.8" stroke="#2aab85" stroke-width="1.15" stroke-opacity="0.8" fill="none"/><circle cx="388.0" cy="58.4" r="2.1" fill="#2aab85"/><path d="M394.6 52.4V64.5M391.7 52.4h5.8M391.7 64.5h5.8" stroke="#a4d63c" stroke-width="1.15" stroke-opacity="0.8" fill="none"/><circle cx="394.6" cy="57.9" r="1.85" fill="#a4d63c"/><path d="M393.5 53.5V67.8M390.6 53.5h5.8M390.6 67.8h5.8" stroke="#21908c" stroke-width="1.15" stroke-opacity="0.8" fill="none"/><circle cx="393.5" cy="60.1" r="2.1" fill="#21908c"/><path d="M407.8 35.8V52.1M404.9 35.8h5.8M404.9 52.1h5.8" stroke="#31688e" stroke-width="1.15" stroke-opacity="0.8" fill="none"/><circle cx="407.8" cy="44.0" r="2.1" fill="#31688e"/><path d="M405.6 55.7V67.8M402.7 55.7h5.8M402.7 67.8h5.8" stroke="#a4d63c" stroke-width="1.15" stroke-opacity="0.8" fill="none"/><circle cx="405.6" cy="62.7" r="1.85" fill="#a4d63c"/><path d="M412.7 50.6V71.5M409.8 50.6h5.8M409.8 71.5h5.8" stroke="#31688e" stroke-width="1.15" stroke-opacity="0.8" fill="none"/><circle cx="412.7" cy="61.0" r="2.1" fill="#31688e"/><path d="M417.6 52.7V66.0M414.7 52.7h5.8M414.7 66.0h5.8" stroke="#31688e" stroke-width="1.15" stroke-opacity="0.8" fill="none"/><circle cx="417.6" cy="59.0" r="2.1" fill="#31688e"/><path d="M420.3 53.4V69.4M417.4 53.4h5.8M417.4 69.4h5.8" stroke="#31688e" stroke-width="1.15" stroke-opacity="0.8" fill="none"/><circle cx="420.3" cy="61.5" r="2.1" fill="#31688e"/><path d="M426.6 58.2V68.7M423.7 58.2h5.8M423.7 68.7h5.8" stroke="#31688e" stroke-width="1.15" stroke-opacity="0.8" fill="none"/><circle cx="426.6" cy="63.1" r="2.1" fill="#31688e"/><path d="M415.5 61.0V72.2M412.6 61.0h5.8M412.6 72.2h5.8" stroke="#21908c" stroke-width="1.15" stroke-opacity="0.8" fill="none"/><circle cx="415.5" cy="66.6" r="2.1" fill="#21908c"/><path d="M423.1 59.0V67.5M420.2 59.0h5.8M420.2 67.5h5.8" stroke="#21908c" stroke-width="1.15" stroke-opacity="0.8" fill="none"/><circle cx="423.1" cy="63.1" r="2.1" fill="#21908c"/><path d="M431.5 58.7V70.7M428.6 58.7h5.8M428.6 70.7h5.8" stroke="#58c06a" stroke-width="1.15" stroke-opacity="0.8" fill="none"/><circle cx="431.5" cy="66.3" r="2.1" fill="#58c06a"/><path d="M433.7 63.0V72.9M430.8 63.0h5.8M430.8 72.9h5.8" stroke="#a4d63c" stroke-width="1.15" stroke-opacity="0.8" fill="none"/><circle cx="433.7" cy="68.1" r="1.85" fill="#a4d63c"/><path d="M444.2 56.5V69.6M441.3 56.5h5.8M441.3 69.6h5.8" stroke="#58c06a" stroke-width="1.15" stroke-opacity="0.8" fill="none"/><circle cx="444.2" cy="64.1" r="2.1" fill="#58c06a"/><path d="M440.9 67.4V76.2M438.0 67.4h5.8M438.0 76.2h5.8" stroke="#a4d63c" stroke-width="1.15" stroke-opacity="0.8" fill="none"/><circle cx="440.9" cy="71.8" r="1.85" fill="#a4d63c"/><path d="M445.7 64.0V72.0M442.8 64.0h5.8M442.8 72.0h5.8" stroke="#a4d63c" stroke-width="1.15" stroke-opacity="0.8" fill="none"/><circle cx="445.7" cy="68.1" r="1.85" fill="#a4d63c"/><path d="M457.8 58.5V75.1M454.9 58.5h5.8M454.9 75.1h5.8" stroke="#58c06a" stroke-width="1.15" stroke-opacity="0.8" fill="none"/><circle cx="457.8" cy="66.3" r="2.1" fill="#58c06a"/><path d="M476.2 67.5V94.5M473.3 67.5h5.8M473.3 94.5h5.8" stroke="#58c06a" stroke-width="1.15" stroke-opacity="0.8" fill="none"/><circle cx="476.2" cy="78.4" r="2.1" fill="#58c06a"/><path d="M463.2 66.1V77.7M460.3 66.1h5.8M460.3 77.7h5.8" stroke="#a4d63c" stroke-width="1.15" stroke-opacity="0.8" fill="none"/><circle cx="463.2" cy="71.9" r="1.85" fill="#a4d63c"/><path d="M463.7 71.5V83.1M460.8 71.5h5.8M460.8 83.1h5.8" stroke="#a4d63c" stroke-width="1.15" stroke-opacity="0.8" fill="none"/><circle cx="463.7" cy="77.3" r="1.85" fill="#a4d63c"/><path d="M465.4 70.5V82.1M462.5 70.5h5.8M462.5 82.1h5.8" stroke="#a4d63c" stroke-width="1.15" stroke-opacity="0.8" fill="none"/><circle cx="465.4" cy="76.3" r="1.85" fill="#a4d63c"/><path d="M466.6 66.0V77.6M463.7 66.0h5.8M463.7 77.6h5.8" stroke="#a4d63c" stroke-width="1.15" stroke-opacity="0.8" fill="none"/><circle cx="466.6" cy="71.8" r="1.85" fill="#a4d63c"/><path d="M469.6 66.7V78.3M466.7 66.7h5.8M466.7 78.3h5.8" stroke="#a4d63c" stroke-width="1.15" stroke-opacity="0.8" fill="none"/><circle cx="469.6" cy="72.5" r="1.85" fill="#a4d63c"/><path d="M479.7 68.2V79.8M476.8 68.2h5.8M476.8 79.8h5.8" stroke="#a4d63c" stroke-width="1.15" stroke-opacity="0.8" fill="none"/><circle cx="479.7" cy="74.0" r="1.85" fill="#a4d63c"/><path d="M480.5 74.4V86.0M477.6 74.4h5.8M477.6 86.0h5.8" stroke="#a4d63c" stroke-width="1.15" stroke-opacity="0.8" fill="none"/><circle cx="480.5" cy="80.2" r="1.85" fill="#a4d63c"/><path d="M483.8 70.0V81.6M480.9 70.0h5.8M480.9 81.6h5.8" stroke="#a4d63c" stroke-width="1.15" stroke-opacity="0.8" fill="none"/><circle cx="483.8" cy="75.8" r="1.85" fill="#a4d63c"/><path d="M484.7 66.1V77.7M481.8 66.1h5.8M481.8 77.7h5.8" stroke="#a4d63c" stroke-width="1.15" stroke-opacity="0.8" fill="none"/><circle cx="484.7" cy="71.9" r="1.85" fill="#a4d63c"/><path d="M481.1 68.9V80.5M478.2 68.9h5.8M478.2 80.5h5.8" stroke="#a4d63c" stroke-width="1.15" stroke-opacity="0.8" fill="none"/><circle cx="481.1" cy="74.7" r="1.85" fill="#a4d63c"/><path d="M481.9 76.1V87.7M479.0 76.1h5.8M479.0 87.7h5.8" stroke="#a4d63c" stroke-width="1.15" stroke-opacity="0.8" fill="none"/><circle cx="481.9" cy="81.9" r="1.85" fill="#a4d63c"/><path d="M501.0 79.3V90.9M498.1 79.3h5.8M498.1 90.9h5.8" stroke="#a4d63c" stroke-width="1.15" stroke-opacity="0.8" fill="none"/><circle cx="501.0" cy="85.1" r="1.85" fill="#a4d63c"/><path d="M489.1 71.3V82.9M486.2 71.3h5.8M486.2 82.9h5.8" stroke="#a4d63c" stroke-width="1.15" stroke-opacity="0.8" fill="none"/><circle cx="489.1" cy="77.1" r="1.85" fill="#a4d63c"/><path d="M482.5 78.2V89.8M479.6 78.2h5.8M479.6 89.8h5.8" stroke="#a4d63c" stroke-width="1.15" stroke-opacity="0.8" fill="none"/><circle cx="482.5" cy="84.0" r="1.85" fill="#a4d63c"/><path d="M489.7 71.7V83.3M486.8 71.7h5.8M486.8 83.3h5.8" stroke="#a4d63c" stroke-width="1.15" stroke-opacity="0.8" fill="none"/><circle cx="489.7" cy="77.5" r="1.85" fill="#a4d63c"/><path d="M489.5 77.1V88.7M486.6 77.1h5.8M486.6 88.7h5.8" stroke="#a4d63c" stroke-width="1.15" stroke-opacity="0.8" fill="none"/><circle cx="489.5" cy="82.9" r="1.85" fill="#a4d63c"/><path d="M494.4 81.7V93.3M491.5 81.7h5.8M491.5 93.3h5.8" stroke="#a4d63c" stroke-width="1.15" stroke-opacity="0.8" fill="none"/><circle cx="494.4" cy="87.5" r="1.85" fill="#a4d63c"/><path d="M497.0 74.0V85.6M494.1 74.0h5.8M494.1 85.6h5.8" stroke="#a4d63c" stroke-width="1.15" stroke-opacity="0.8" fill="none"/><circle cx="497.0" cy="79.8" r="1.85" fill="#a4d63c"/><path d="M498.0 77.4V89.0M495.1 77.4h5.8M495.1 89.0h5.8" stroke="#a4d63c" stroke-width="1.15" stroke-opacity="0.8" fill="none"/><circle cx="498.0" cy="83.2" r="1.85" fill="#a4d63c"/><path d="M503.6 79.6V91.2M500.7 79.6h5.8M500.7 91.2h5.8" stroke="#a4d63c" stroke-width="1.15" stroke-opacity="0.8" fill="none"/><circle cx="503.6" cy="85.4" r="1.85" fill="#a4d63c"/><path d="M508.2 75.7V87.3M505.3 75.7h5.8M505.3 87.3h5.8" stroke="#a4d63c" stroke-width="1.15" stroke-opacity="0.8" fill="none"/><circle cx="508.2" cy="81.5" r="1.85" fill="#a4d63c"/><path d="M508.2 81.7V93.3M505.3 81.7h5.8M505.3 93.3h5.8" stroke="#a4d63c" stroke-width="1.15" stroke-opacity="0.8" fill="none"/><circle cx="508.2" cy="87.5" r="1.85" fill="#a4d63c"/><path d="M511.2 84.3V95.9M508.3 84.3h5.8M508.3 95.9h5.8" stroke="#a4d63c" stroke-width="1.15" stroke-opacity="0.8" fill="none"/><circle cx="511.2" cy="90.1" r="1.85" fill="#a4d63c"/><path d="M514.0 76.8V88.4M511.1 76.8h5.8M511.1 88.4h5.8" stroke="#a4d63c" stroke-width="1.15" stroke-opacity="0.8" fill="none"/><circle cx="514.0" cy="82.6" r="1.85" fill="#a4d63c"/><path d="M515.7 83.4V95.0M512.8 83.4h5.8M512.8 95.0h5.8" stroke="#a4d63c" stroke-width="1.15" stroke-opacity="0.8" fill="none"/><circle cx="515.7" cy="89.2" r="1.85" fill="#a4d63c"/><path d="M521.1 79.9V91.5M518.2 79.9h5.8M518.2 91.5h5.8" stroke="#a4d63c" stroke-width="1.15" stroke-opacity="0.8" fill="none"/><circle cx="521.1" cy="85.7" r="1.85" fill="#a4d63c"/><path d="M525.0 81.0V92.6M522.1 81.0h5.8M522.1 92.6h5.8" stroke="#a4d63c" stroke-width="1.15" stroke-opacity="0.8" fill="none"/><circle cx="525.0" cy="86.8" r="1.85" fill="#a4d63c"/><path d="M526.6 84.3V95.9M523.7 84.3h5.8M523.7 95.9h5.8" stroke="#a4d63c" stroke-width="1.15" stroke-opacity="0.8" fill="none"/><circle cx="526.6" cy="90.1" r="1.85" fill="#a4d63c"/><path d="M529.9 89.8V101.4M527.0 89.8h5.8M527.0 101.4h5.8" stroke="#a4d63c" stroke-width="1.15" stroke-opacity="0.8" fill="none"/><circle cx="529.9" cy="95.6" r="1.85" fill="#a4d63c"/><path d="M530.9 81.7V93.3M528.0 81.7h5.8M528.0 93.3h5.8" stroke="#a4d63c" stroke-width="1.15" stroke-opacity="0.8" fill="none"/><circle cx="530.9" cy="87.5" r="1.85" fill="#a4d63c"/><path d="M514.5 77.2V88.8M511.6 77.2h5.8M511.6 88.8h5.8" stroke="#a4d63c" stroke-width="1.15" stroke-opacity="0.8" fill="none"/><circle cx="514.5" cy="83.0" r="1.85" fill="#a4d63c"/><path d="M536.6 81.9V93.5M533.7 81.9h5.8M533.7 93.5h5.8" stroke="#a4d63c" stroke-width="1.15" stroke-opacity="0.8" fill="none"/><circle cx="536.6" cy="87.7" r="1.85" fill="#a4d63c"/><path d="M538.5 84.7V96.3M535.6 84.7h5.8M535.6 96.3h5.8" stroke="#a4d63c" stroke-width="1.15" stroke-opacity="0.8" fill="none"/><circle cx="538.5" cy="90.5" r="1.85" fill="#a4d63c"/><path d="M544.9 84.4V96.0M542.0 84.4h5.8M542.0 96.0h5.8" stroke="#a4d63c" stroke-width="1.15" stroke-opacity="0.8" fill="none"/><circle cx="544.9" cy="90.2" r="1.85" fill="#a4d63c"/><path d="M547.1 89.4V101.0M544.2 89.4h5.8M544.2 101.0h5.8" stroke="#a4d63c" stroke-width="1.15" stroke-opacity="0.8" fill="none"/><circle cx="547.1" cy="95.2" r="1.85" fill="#a4d63c"/><path d="M552.6 86.1V97.7M549.7 86.1h5.8M549.7 97.7h5.8" stroke="#a4d63c" stroke-width="1.15" stroke-opacity="0.8" fill="none"/><circle cx="552.6" cy="91.9" r="1.85" fill="#a4d63c"/><path d="M559.1 86.1V97.7M556.2 86.1h5.8M556.2 97.7h5.8" stroke="#a4d63c" stroke-width="1.15" stroke-opacity="0.8" fill="none"/><circle cx="559.1" cy="91.9" r="1.85" fill="#a4d63c"/><path d="M558.7 90.5V102.1M555.8 90.5h5.8M555.8 102.1h5.8" stroke="#a4d63c" stroke-width="1.15" stroke-opacity="0.8" fill="none"/><circle cx="558.7" cy="96.3" r="1.85" fill="#a4d63c"/><path d="M562.4 98.5V109.5M559.5 98.5h5.8M559.5 109.5h5.8" stroke="#a4d63c" stroke-width="1.15" stroke-opacity="0.8" fill="none"/><circle cx="562.4" cy="104.7" r="1.85" fill="#a4d63c"/><path d="M570.1 93.0V97.4M567.2 93.0h5.8M567.2 97.4h5.8" stroke="#a4d63c" stroke-width="1.15" stroke-opacity="0.8" fill="none"/><circle cx="570.1" cy="95.2" r="1.85" fill="#a4d63c"/><path d="M572.5 95.2V109.5M569.6 95.2h5.8M569.6 109.5h5.8" stroke="#a4d63c" stroke-width="1.15" stroke-opacity="0.8" fill="none"/><circle cx="572.5" cy="101.8" r="1.85" fill="#a4d63c"/><path d="M578.6 93.7V104.0M575.7 93.7h5.8M575.7 104.0h5.8" stroke="#a4d63c" stroke-width="1.15" stroke-opacity="0.8" fill="none"/><circle cx="578.6" cy="98.0" r="1.85" fill="#a4d63c"/><path d="M588.0 95.9V104.7M585.1 95.9h5.8M585.1 104.7h5.8" stroke="#a4d63c" stroke-width="1.15" stroke-opacity="0.8" fill="none"/><circle cx="588.0" cy="100.8" r="1.85" fill="#a4d63c"/><path d="M586.6 104.1V127.2M583.7 104.1h5.8M583.7 127.2h5.8" stroke="#a4d63c" stroke-width="1.15" stroke-opacity="0.8" fill="none"/><circle cx="586.6" cy="115.0" r="1.85" fill="#a4d63c"/><path d="M603.0 100.2V112.5M600.1 100.2h5.8M600.1 112.5h5.8" stroke="#a4d63c" stroke-width="1.15" stroke-opacity="0.8" fill="none"/><circle cx="603.0" cy="105.2" r="1.85" fill="#a4d63c"/></svg>
</body></html>
